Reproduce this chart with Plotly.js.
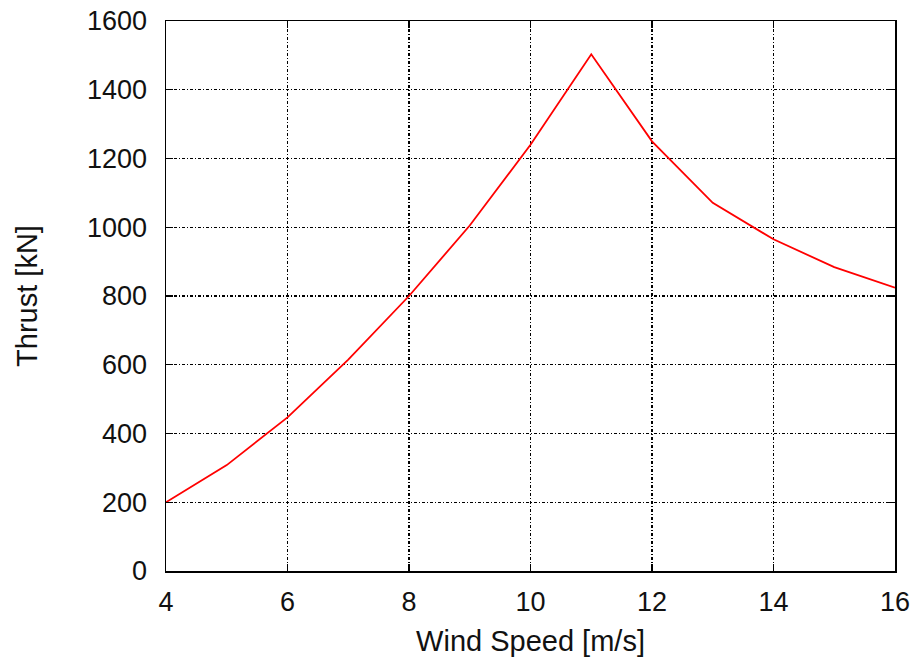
<!DOCTYPE html>
<html>
<head>
<meta charset="utf-8">
<script src="https://cdn.plot.ly/plotly-3.0.1.min.js"></script>
<style>html,body{margin:0;padding:0;background:#fff;}#chart{width:921px;height:663px;}</style>
</head>
<body>
<div id="chart"></div>
<script>
const windSpeed = [4, 5, 6, 7, 8, 9, 10, 11, 12, 13, 14, 15, 16];
const thrust = [200, 308, 447, 615, 800, 1005, 1240, 1503, 1250, 1071, 965, 884, 824];
const xTicks = [4, 6, 8, 10, 12, 14, 16];
const yTicks = [0, 200, 400, 600, 800, 1000, 1200, 1400, 1600];
const xTitle = 'Wind Speed [m/s]';
const yTitle = 'Thrust [kN]';

const fontFam = 'Liberation Sans, Arial, sans-serif';
const axisCommon = {
  showline: true, linecolor: '#000', linewidth: 1.5, mirror: 'ticks',
  ticks: 'inside', ticklen: 7, tickwidth: 1.2, tickcolor: '#000',
  showgrid: true, gridcolor: '#000', gridwidth: 1.1, griddash: '3px,2px,1px,2px',
  zeroline: false, automargin: false,
  tickfont: {family: fontFam, size: 27, color: '#111'}
};

Plotly.newPlot('chart', [{
  x: windSpeed, y: thrust, type: 'scatter', mode: 'lines',
  line: {color: '#ff0000', width: 1.8}
}], {
  width: 921, height: 663,
  margin: {l: 166, r: 26, t: 21, b: 92},
  paper_bgcolor: '#fff', plot_bgcolor: '#fff',
  showlegend: false,
  xaxis: Object.assign({}, axisCommon, {
    range: [4, 16], tickvals: xTicks, ticktext: xTicks.map(String),
    ticklabelstandoff: 6,
    title: {text: xTitle, standoff: 15, font: {family: fontFam, size: 29, color: '#111'}}
  }),
  yaxis: Object.assign({}, axisCommon, {
    range: [0, 1600], tickvals: yTicks, ticktext: yTicks.map(String),
    ticklabelstandoff: 12,
    title: {text: yTitle, standoff: 41, font: {family: fontFam, size: 29, color: '#111'}}
  })
}, {staticPlot: true, displayModeBar: false});
</script>
</body>
</html>
